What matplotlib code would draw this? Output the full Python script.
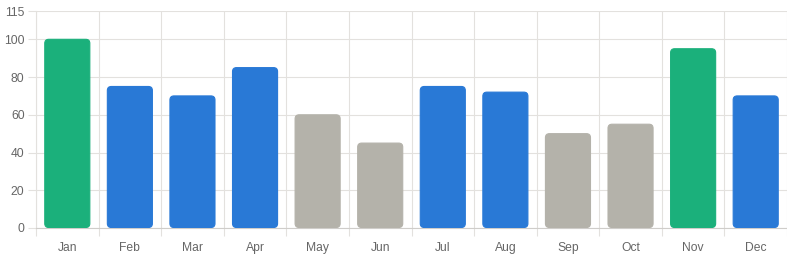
import matplotlib
matplotlib.use("Agg")
import matplotlib.pyplot as plt
from matplotlib.patches import FancyBboxPatch
import numpy as np

months = ["Jan", "Feb", "Mar", "Apr", "May", "Jun", "Jul", "Aug", "Sep", "Oct", "Nov", "Dec"]
values = [100, 75, 70, 85, 60, 45, 75, 72, 50, 55, 95, 70]
groups = ["high", "mid", "mid", "mid", "low", "low", "mid", "mid", "low", "low", "high", "mid"]
palette = {"high": "#1bb07b", "mid": "#2979d6", "low": "#b4b2aa"}
y_ticks = [0, 20, 40, 60, 80, 100, 115]

plt.rcParams['font.family'] = ['Liberation Sans', 'DejaVu Sans']

W, H = 787, 258
fig = plt.figure(figsize=(W / 100, H / 100), dpi=100)
left, right, top, bottom = 36, 787, 11, 228
ax = fig.add_axes([left / W, (H - bottom) / H, (right - left) / W, (bottom - top) / H])

n = len(months)
ax.set_xlim(-0.5, n - 0.5)
ax.set_ylim(0, 115)

px_x = (right - left) / n          # pixels per x unit
px_y = (bottom - top) / 115        # pixels per y unit
bw = 0.72
radius_px = 4
for i, (v, g) in enumerate(zip(values, groups)):
    x0 = i - bw / 2
    y0 = 0.5 / px_y
    p = FancyBboxPatch((x0, y0), bw, v - y0,
                       boxstyle=f"round,pad=0,rounding_size={radius_px / px_x}",
                       mutation_aspect=px_x / px_y,
                       facecolor=palette[g], edgecolor=palette[g], linewidth=0.8, zorder=3)
    ax.add_patch(p)

grid_c = "#e3e1de"
ax.set_yticks(y_ticks)
ax.set_xticks(np.arange(n))
ax.set_xticklabels(months)
ax.set_xticks(np.arange(n + 1) - 0.5, minor=True)
ax.tick_params(axis='x', which='major', length=0, pad=10, labelsize=8.7, labelcolor="#666666")
ax.tick_params(axis='x', which='minor', length=8 * 0.72, width=0.8, color=grid_c)
ax.tick_params(axis='y', length=8 * 0.72, width=0.8, color=grid_c, pad=2.5, labelsize=8.7, labelcolor="#666666")
ax.grid(True, axis='y', color=grid_c, linewidth=0.8, zorder=0)
ax.grid(True, axis='x', which='minor', color=grid_c, linewidth=0.8, zorder=0)
ax.set_axisbelow(True)
for s in ["top", "right"]:
    ax.spines[s].set_visible(False)
ax.spines["left"].set_color(grid_c)
ax.spines["bottom"].set_color("#cfcdca")
ax.spines["left"].set_linewidth(0.8)
ax.spines["bottom"].set_linewidth(0.8)

fig.savefig("out.png", dpi=100)
